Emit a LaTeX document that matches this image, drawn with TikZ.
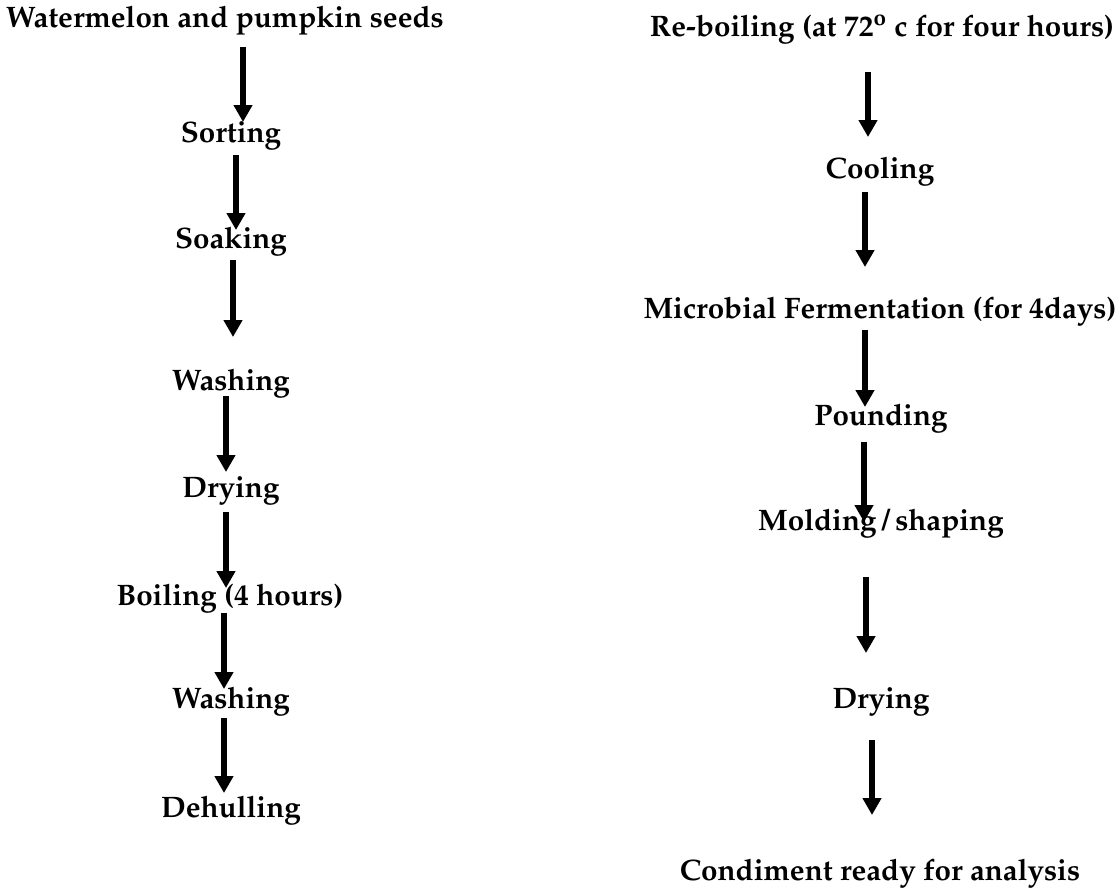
\documentclass[tikz,border=0pt]{standalone}
\usepackage[T1]{fontenc}
\usepackage{mathpazo}
\usepackage{tikz}
\usetikzlibrary{arrows.meta}

\begin{document}
\begin{tikzpicture}[x=0.5pt, y=-0.5pt,
    stage/.style={anchor=base, inner sep=0pt, font=\fontsize{14.8}{17}\selectfont\bfseries},
    flow/.style={line width=2.6pt, -{Triangle[length=8.5pt, width=9pt]}}]
    \useasboundingbox (0,0) rectangle (1117,891);

    \node[stage] (seeds) at (225,27) {Watermelon and pumpkin seeds};
    \node[stage] (sorting) at (231,142) {Sorting};
    \node[stage] (soaking) at (231,248) {Soaking};
    \node[stage] (washa) at (231,390) {Washing};
    \node[stage] (dryinga) at (231,497) {Drying};
    \node[stage] (boiling) at (230,605) {Boiling (4 hours)};
    \node[stage] (washb) at (231,708) {Washing};
    \node[stage] (dehull) at (231,817) {Dehulling};

    \node[stage] (reboil) at (882,36) {Re-boiling (at 72\textsuperscript{o} c for four hours)};
    \node[stage] (cooling) at (880,178) {Cooling};
    \node[stage] (ferment) at (880,318) {Microbial Fermentation (for 4days)};
    \node[stage] (pounding) at (881,425) {Pounding};
    \node[stage] (molding) at (881,530) {Molding\,/\,shaping};
    \node[stage] (dryingb) at (881,708) {Drying};
    \node[stage] (condiment) at (880,880) {Condiment ready for analysis};

    \draw[flow] ([shift={(18,20)}]seeds.base) -- ([shift={(12,-20)}]sorting.base);
    \draw[flow] ([shift={(5,13)}]sorting.base) -- ([shift={(5,-18)}]soaking.base);
    \draw[flow] ([shift={(2,12)}]soaking.base) -- ([shift={(2,-53)}]washa.base);
    \draw[flow] ([shift={(-5,6)}]washa.base) -- ([shift={(-5,-25)}]dryinga.base);
    \draw[flow] ([shift={(-5,15)}]dryinga.base) -- ([shift={(-4,-17)}]boiling.base);
    \draw[flow] ([shift={(-6,8)}]boiling.base) -- ([shift={(-7,-19)}]washb.base);
    \draw[flow] ([shift={(-7,10)}]washb.base) -- ([shift={(-7,-24)}]dehull.base);

    \draw[flow] ([shift={(-14,36)}]reboil.base) -- ([shift={(-12,-41)}]cooling.base);
    \draw[flow] ([shift={(-15,14)}]cooling.base) -- ([shift={(-15,-51)}]ferment.base);
    \draw[flow] ([shift={(-15,12)}]ferment.base) -- ([shift={(-16,-18)}]pounding.base);
    \draw[flow] ([shift={(-17,17)}]pounding.base) -- ([shift={(-17,-8)}]molding.base);
    \draw[flow] ([shift={(-15,47)}]molding.base) -- ([shift={(-15,-55)}]dryingb.base);
    \draw[flow] ([shift={(-9,32)}]dryingb.base) -- ([shift={(-8,-65)}]condiment.base);
\end{tikzpicture}
\end{document}
